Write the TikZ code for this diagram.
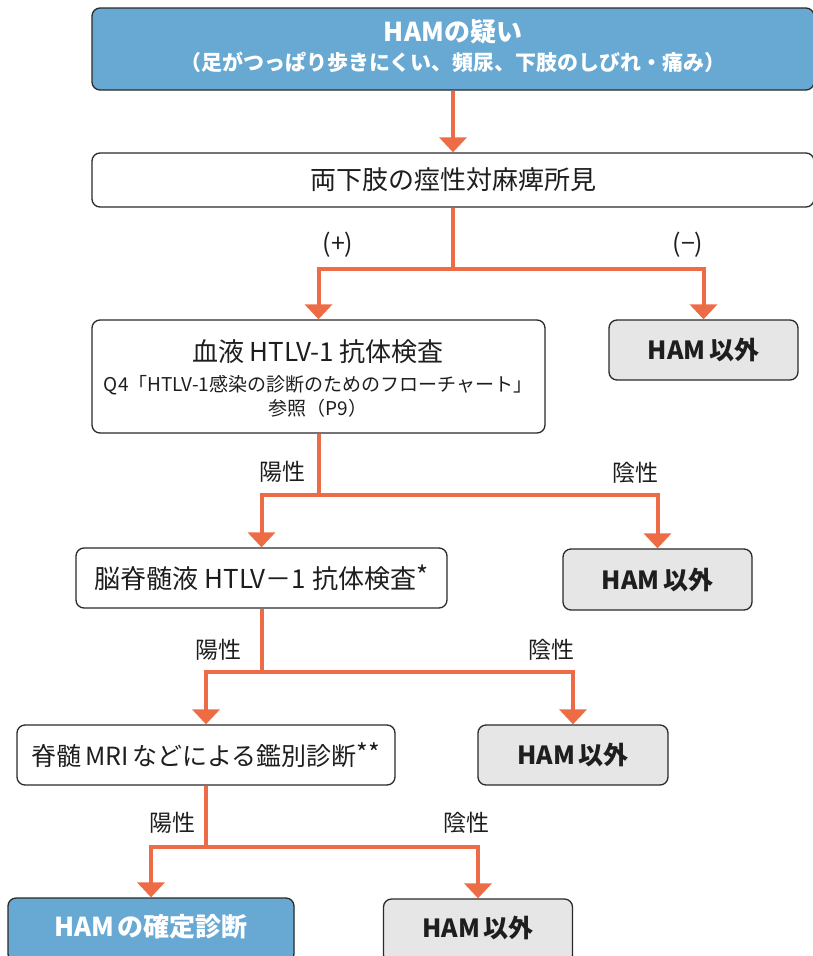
\documentclass[tikz,border=0pt]{standalone}
\usepackage{fontspec}
\setmainfont{Noto Sans CJK JP}
\usetikzlibrary{arrows.meta}
\definecolor{flowline}{HTML}{EE6C45}
\definecolor{hamblue}{HTML}{67A9D3}
\definecolor{othergray}{HTML}{E6E6E6}
\definecolor{ink}{HTML}{1E1E1E}
\definecolor{edge}{HTML}{2A2A2A}
\newcommand{\fsz}[1]{\fontsize{#1}{#1}\selectfont}
\newcommand{\jgap}{\hspace{0.15em}}
\newcommand{\note}[1]{\raisebox{0.12em}{#1}}

\begin{document}
\begin{tikzpicture}[x=1pt,y=-1pt,
  box/.style={draw=edge, line width=1.3pt, rounded corners=8pt, inner sep=0pt, text=ink},
  whitebox/.style={box, fill=white},
  bluebox/.style={box, fill=hamblue},
  graybox/.style={box, fill=othergray, font=\fsz{25}\bfseries},
  txt/.style={inner sep=0pt, text=ink},
  wtxt/.style={inner sep=0pt, text=white, font=\bfseries},
  lbl/.style={inner sep=0pt, text=ink, font=\fsz{23}},
  bar/.style={draw=flowline, line width=4pt},
  flow/.style={bar, -{Triangle[width=27pt,length=15pt]}},
]
\useasboundingbox (0,0) rectangle (812,956);

% --- boxes ---
\node[bluebox, minimum width=722pt, minimum height=82pt] (top) at (453,49) {};
\node[wtxt, font=\fsz{26}\bfseries] (topA) at (453,32) {HAMの疑い};
\node[wtxt, font=\fsz{21}\bfseries] (topB) at (453,62) {（足がつっぱり歩きにくい、頻尿、下肢のしびれ・痛み）};

\node[whitebox, minimum width=722pt, minimum height=54pt, font=\fsz{26}] (legs) at (453,180) {両下肢の痙性対麻痺所見};

\node[whitebox, minimum width=453pt, minimum height=113pt] (blood) at (318.5,376.5) {};
\node[txt, font=\fsz{26}] (bloodA) at (318,352) {血液 HTLV-1 抗体検査};
\node[txt, font=\fsz{19}] (bloodB) at (318,385) {Q4「HTLV-1感染の診断のためのフローチャート」};
\node[txt, font=\fsz{19}] (bloodC) at (318,408) {参照（P9）};

\node[graybox, minimum width=189pt, minimum height=60pt] (no1) at (703.5,350) {HAM\jgap 以外};

\node[whitebox, minimum width=371pt, minimum height=60pt, font=\fsz{26}] (csf) at (261.5,578) {脳脊髄液 HTLV－1 抗体検査\note{*}};
\node[graybox, minimum width=189pt, minimum height=61pt] (no2) at (657.5,579.5) {HAM\jgap 以外};

\node[whitebox, minimum width=378pt, minimum height=60pt, font=\fsz{25}] (mri) at (206,755) {脊髄\jgap MRI\jgap などによる鑑別診断\note{**}};
\node[graybox, minimum width=190pt, minimum height=60pt] (no3) at (573,755) {HAM\jgap 以外};

\node[bluebox, minimum width=286pt, minimum height=64pt] (final) at (151,930) {};
\node[wtxt, font=\fsz{26}\bfseries] (finalT) at (151,927) {HAM\jgap の確定診断};
\node[graybox, minimum width=189pt, minimum height=64pt] (no4) at (478,931) {};
\node[txt, font=\fsz{25}\bfseries] (no4T) at (478,928) {HAM\jgap 以外};

% --- junction points ---
\coordinate (j1) at (453,269);
\coordinate (j2) at (318.5,495);
\coordinate (j3) at (261.5,672);
\coordinate (j4) at (206,847);

% --- connectors ---
\draw[flow] (top.south) -- (legs.north);

\draw[bar] (legs.south) -- (j1);
\draw[flow] (j1) -| (blood.north);
\draw[flow] (j1) -| (no1.north);

\draw[bar] (blood.south) -- (j2);
\draw[flow] (j2) -| (csf.north);
\draw[flow] (j2) -| (no2.north);

\draw[bar] (csf.south) -- (j3);
\draw[flow] (j3) -| (mri.north);
\draw[flow] (j3) -| (no3.north);

\draw[bar] (mri.south) -- (j4);
\draw[flow] (j4) -| (final.north);
\draw[flow] (j4) -| (no4.north);

% --- branch labels ---
\node[lbl, font=\fsz{25}] (plus) at (338,245) {(+)};
\node[lbl, font=\fsz{25}] (minus) at (688,245) {(−)};
\node[lbl] (pos1) at (282,472) {陽性};
\node[lbl] (neg1) at (635,473) {陰性};
\node[lbl] (pos2) at (218,650) {陽性};
\node[lbl] (neg2) at (551,650) {陰性};
\node[lbl] (pos3) at (172,823) {陽性};
\node[lbl] (neg3) at (466,823) {陰性};
\end{tikzpicture}
\end{document}
